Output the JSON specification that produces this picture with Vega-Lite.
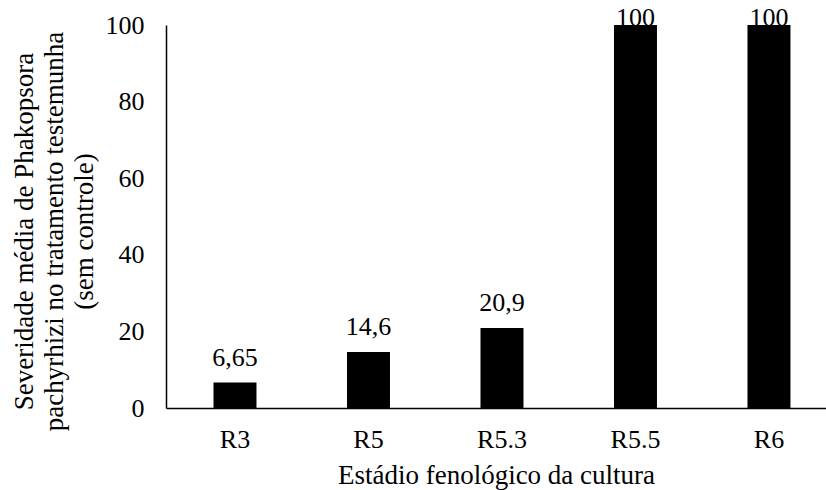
{
  "$schema": "https://vega.github.io/schema/vega-lite/v6.json",
  "autosize": "none",
  "padding": {"left": 166, "top": 25, "right": 0, "bottom": 82},
  "width": 660,
  "height": 383,
  "background": "white",
  "config": {
    "view": {"stroke": null},
    "font": "Liberation Serif",
    "text": {"font": "Liberation Serif"},
    "axis": {
      "labelFont": "Liberation Serif",
      "titleFont": "Liberation Serif",
      "labelFontSize": 26,
      "titleFontSize": 27,
      "labelColor": "black",
      "titleColor": "black",
      "titleFontWeight": "normal",
      "domainColor": "black",
      "domainWidth": 1.5,
      "grid": false,
      "ticks": false,
      "tickSize": 0
    }
  },
  "data": {
    "values": [
      {"estadio": "R3", "sev": 6.65, "label": "6,65"},
      {"estadio": "R5", "sev": 14.6, "label": "14,6"},
      {"estadio": "R5.3", "sev": 20.9, "label": "20,9"},
      {"estadio": "R5.5", "sev": 100, "label": "100"},
      {"estadio": "R6", "sev": 100, "label": "100"}
    ]
  },
  "encoding": {
    "x": {
      "field": "estadio",
      "type": "nominal",
      "sort": null,
      "scale": {"paddingInner": 0.678, "paddingOuter": 0.311, "align": 0.572},
      "axis": {
        "title": "Estádio fenológico da cultura",
        "labelAngle": 0,
        "labelPadding": 18,
        "titlePadding": 10
      }
    },
    "y": {
      "field": "sev",
      "type": "quantitative",
      "scale": {"domain": [0, 100], "nice": false},
      "axis": {
        "values": [0, 20, 40, 60, 80, 100],
        "title": ["Severidade média de Phakopsora", "pachyrhizi no tratamento testemunha", "(sem controle)"],
        "titleLineHeight": 30,
        "labelPadding": 22,
        "titleX": -134,
        "titleY": 206,
        "titleBaseline": "alphabetic",
        "titleAlign": "center",
        "titleAngle": -90
      }
    }
  },
  "layer": [
    {"mark": {"type": "bar", "color": "black"}},
    {
      "transform": [{"filter": "datum.sev < 100"}],
      "mark": {"type": "text", "baseline": "alphabetic", "dy": -17, "fontSize": 26, "font": "Liberation Serif", "color": "black"},
      "encoding": {"text": {"field": "label"}}
    },
    {
      "transform": [{"filter": "datum.sev >= 100"}],
      "mark": {"type": "text", "baseline": "alphabetic", "dy": 1, "fontSize": 26, "font": "Liberation Serif", "color": "black"},
      "encoding": {"text": {"field": "label"}}
    }
  ]
}
